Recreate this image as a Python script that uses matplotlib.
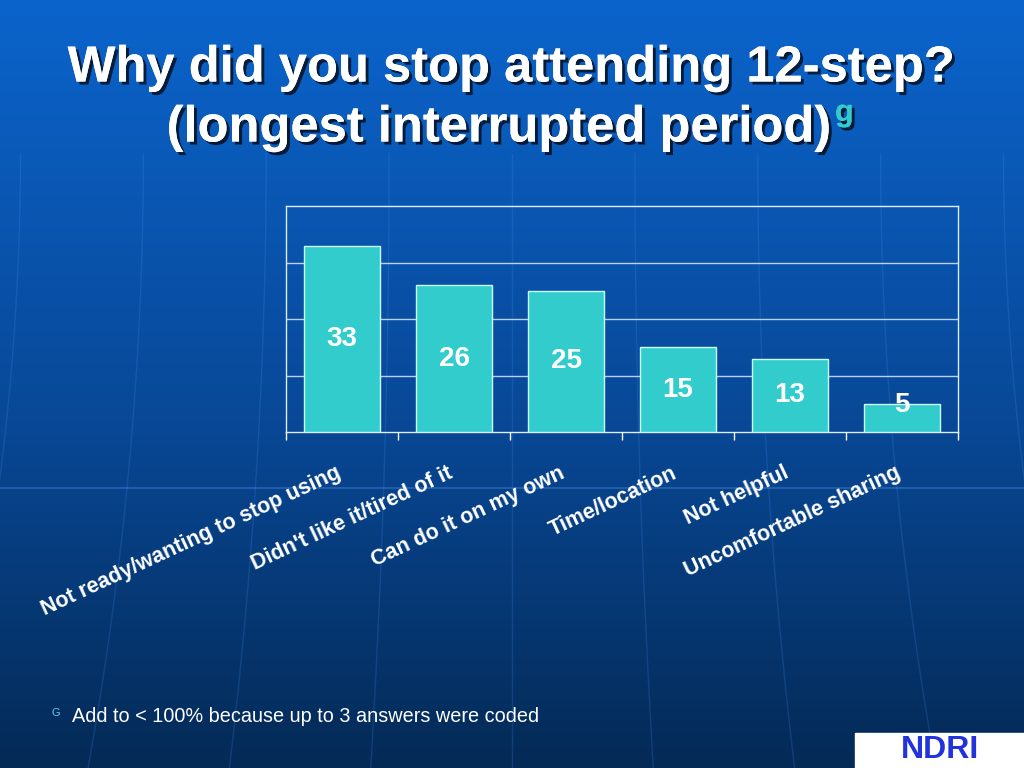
import numpy as np
import matplotlib
matplotlib.use("Agg")
import matplotlib.pyplot as plt
from matplotlib import patheffects as pe

categories = ["Not ready/wanting to stop using", "Didn't like it/tired of it",
              "Can do it on my own", "Time/location", "Not helpful",
              "Uncomfortable sharing"]
values = [33, 26, 25, 15, 13, 5]
title_line1 = "Why did you stop attending 12-step?"
title_line2 = "(longest interrupted period)"
footnote = "Add to < 100% because up to 3 answers were coded"

plt.rcParams['font.family'] = ['Liberation Sans', 'DejaVu Sans']

fig = plt.figure(figsize=(10.24, 7.68), dpi=100)

# background gradient
bg = fig.add_axes([0, 0, 1, 1])
top = np.array([11, 100, 204]) / 255
mid = np.array([8, 72, 150]) / 255
bot = np.array([4, 42, 86]) / 255
t = np.linspace(0, 1, 256)[:, None]
grad = np.where(t < 0.55, top + (mid - top) * (t / 0.55),
                mid + (bot - mid) * ((t - 0.55) / 0.45))
img = np.repeat(grad[:, None, :], 2, axis=1)
bg.imshow(img, aspect='auto', extent=[0, 1, 0, 1], origin='upper')
# faint decorative meridian lines
yy = np.linspace(0, 0.8, 50)
for x0 in np.linspace(0.02, 0.98, 9):
    bend = (x0 - 0.5) * 0.25
    bg.plot(x0 + bend * (1 - yy / 0.8) ** 2 * 0.6, yy, color=(0.3, 0.6, 1.0),
            alpha=0.18, lw=1)
bg.axhline(1 - 488 / 768, color=(0.35, 0.65, 1.0), alpha=0.35, lw=1.2)
bg.set_xlim(0, 1)
bg.set_ylim(0, 1)
bg.axis('off')

ax = fig.add_axes([286 / 1024, 1 - 432 / 768, 672 / 1024, 226 / 768])
ax.patch.set_alpha(0)
x = np.arange(len(categories))
bars = ax.bar(x, values, width=0.67, color='#33CCCC', edgecolor='#CCFFFF',
              linewidth=1, zorder=3)
for xi, v in zip(x, values):
    ax.text(xi, max(v / 2, 4.8), str(v), ha='center', va='center',
            color='white', fontsize=20, fontweight='bold', zorder=4)
ax.set_xlim(-0.5, len(categories) - 0.5)
ax.set_ylim(0, 40)
ax.set_yticks([10, 20, 30])
ax.yaxis.grid(True, color='#D8E8FF', lw=1, alpha=0.85, zorder=0)
ax.tick_params(axis='y', length=0, labelleft=False)
ax.set_xticks(np.arange(-0.5, len(categories), 1.0))
ax.tick_params(axis='x', direction='out', length=6, color='white',
               labelbottom=False, width=1)
for s in ax.spines.values():
    s.set_color('#E0ECFF')
    s.set_linewidth(1)

for xi, c in zip(x, categories):
    ax.annotate(c, xy=(xi - 0.06, 0), xycoords='data', xytext=(0, -22),
                textcoords='offset points', ha='right', va='top',
                rotation=25, rotation_mode='anchor', color='white',
                fontsize=15.5, fontweight='bold')

shadow = [pe.withSimplePatchShadow(offset=(2.2, -2.2), shadow_rgbFace='black',
                                   alpha=0.7), pe.Normal()]
fig.text(0.5, 1 - 68 / 768, title_line1, ha='center', va='center',
         color='white', fontsize=36.5, fontweight='bold', path_effects=shadow)
fig.text(0.488, 1 - 128 / 768, title_line2, ha='center', va='center',
         color='white', fontsize=36.5, fontweight='bold', path_effects=shadow)
fig.text(835 / 1024, 1 - 113 / 768, "g", ha='left', va='center',
         color='#33CCCC', fontsize=22, fontweight='bold', path_effects=shadow)

fig.text(52 / 1024, 1 - 713 / 768, "G", ha='left', va='center',
         color='#66CCDD', fontsize=8)
fig.text(72 / 1024, 1 - 717 / 768, footnote, ha='left', va='center',
         color='white', fontsize=14.3)

# NDRI logo box
fig.patches.append(plt.Rectangle((855 / 1024, 0), 169 / 1024, 35 / 768,
                                 transform=fig.transFigure, color='white',
                                 zorder=5))
fig.text(940 / 1024, 3 / 768, "NDRI", ha='center', va='bottom',
         color='#2233DD', fontsize=23, fontweight='bold', zorder=6)

fig.savefig("out.png", dpi=100)
